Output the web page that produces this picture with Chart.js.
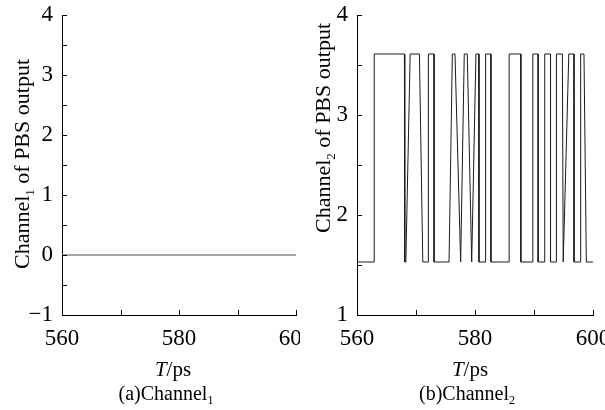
<!DOCTYPE html>
<html>
<head>
<meta charset="utf-8">
<script src="https://cdn.jsdelivr.net/npm/chart.js@4/dist/chart.umd.min.js"></script>
<style>
  html, body { margin: 0; padding: 0; background: #fff; }
  #wrap { position: relative; width: 605px; height: 410px; overflow: hidden; }
  #c1 { position: absolute; left: 0; top: 0; }
  #c2 { position: absolute; left: 300px; top: 0; }
</style>
</head>
<body>
<div id="wrap">
  <canvas id="c1" width="300" height="410"></canvas>
  <canvas id="c2" width="305" height="410"></canvas>
</div>
<script>
// ---- data ----
const xRange = [560, 600];
const xTickLabels = [560, 580, 600];
const ch1YRange = [-1, 4];
const ch2YRange = [1, 4];

// Channel 1: flat at zero
const ch1Times  = [560, 600];
const ch1Levels = [0, 0];

// Channel 2: pulse train (T in ps, level)
const ch2Times = [
  560, 562.92, 562.92, 568.04, 568.10, 568.28, 569.01, 570.58, 571.15, 572.10,
  572.10, 573.06, 573.06, 575.60, 576.16, 576.61, 577.57, 578.18, 578.69, 579.44,
  580.16, 580.67, 580.67, 581.80, 581.80, 582.70, 582.70, 585.79, 585.79, 587.77,
  587.77, 589.80, 589.80, 590.70, 590.70, 591.82, 591.82, 592.80, 592.80, 593.80,
  593.80, 594.81, 594.95, 595.00, 595.90, 596.78, 596.78, 597.91, 597.91, 598.47,
  598.87, 600
];
const ch2Levels = [
  1.53, 1.53, 3.61, 3.61, 1.53, 1.53, 3.61, 3.61, 1.53, 1.53,
  3.61, 3.61, 1.53, 1.53, 3.61, 3.61, 1.53, 3.61, 3.61, 1.53,
  3.61, 3.61, 1.53, 1.53, 3.61, 3.61, 1.53, 1.53, 3.61, 3.61,
  1.53, 1.53, 3.61, 3.61, 1.53, 1.53, 3.61, 3.61, 1.53, 1.53,
  3.61, 3.61, 1.53, 1.53, 3.61, 3.61, 1.53, 1.53, 3.61, 3.61,
  1.53, 1.53
];

const SERIF = "'Liberation Serif', 'Times New Roman', serif";

function pts(xs, ys) { return xs.map((x, i) => ({ x: x, y: ys[i] })); }

// inward tick marks drawn through the library's scales
const inwardTicks = {
  id: 'inwardTicks',
  afterDraw(chart) {
    const ctx = chart.ctx, a = chart.chartArea;
    ctx.save();
    ctx.strokeStyle = '#000';
    ctx.lineWidth = 1;
    const xs = chart.scales.x, ys = chart.scales.y;
    xs.ticks.forEach(t => {
      const p = Math.round(xs.getPixelForValue(t.value)) + 0.5;
      ctx.beginPath(); ctx.moveTo(p, a.bottom); ctx.lineTo(p, a.bottom - 5); ctx.stroke();
    });
    ys.ticks.forEach(t => {
      const p = Math.round(ys.getPixelForValue(t.value)) + 0.5;
      ctx.beginPath(); ctx.moveTo(a.left, p); ctx.lineTo(a.left + 5, p); ctx.stroke();
    });
    ctx.restore();
  }
};

// rich text: segments {t, size, italic, dy}
function drawRich(ctx, segs, cx, cy, rot) {
  ctx.save();
  ctx.translate(cx, cy);
  if (rot) ctx.rotate(rot);
  ctx.fillStyle = '#000';
  ctx.textBaseline = 'alphabetic';
  ctx.textAlign = 'left';
  let w = 0;
  segs.forEach(s => {
    ctx.font = (s.italic ? 'italic ' : '') + s.size + 'px ' + SERIF;
    s.w = ctx.measureText(s.t).width; w += s.w;
  });
  let x = -w / 2;
  segs.forEach(s => {
    ctx.font = (s.italic ? 'italic ' : '') + s.size + 'px ' + SERIF;
    ctx.fillText(s.t, x, (s.dy || 0));
    x += s.w;
  });
  ctx.restore();
}

function textPlugin(cfg) {
  return {
    id: 'texts',
    afterDraw(chart) {
      const ctx = chart.ctx;
      drawRich(ctx, [
        { t: 'Channel', size: 22 }, { t: cfg.sub, size: 13, dy: 5 }, { t: ' of PBS output', size: 22 }
      ], cfg.yt[0], cfg.yt[1], -Math.PI / 2);
      drawRich(ctx, [{ t: 'T', size: 21, italic: true }, { t: '/ps', size: 21 }], cfg.xt[0], cfg.xt[1]);
      drawRich(ctx, [{ t: cfg.cap, size: 20 }, { t: cfg.sub, size: 12, dy: 4 }], cfg.cp[0], cfg.cp[1]);
    }
  };
}

function makeChart(id, data, color, width, yRange, pad, yWidth, cfg) {
  return new Chart(document.getElementById(id), {
    type: 'line',
    data: { datasets: [{ data: data, borderColor: color, borderWidth: width, pointRadius: 0, tension: 0, fill: false }] },
    options: {
      responsive: false, animation: false, devicePixelRatio: 1,
      layout: { autoPadding: false, padding: pad },
      plugins: { legend: { display: false }, tooltip: { enabled: false }, title: { display: false } },
      scales: {
        x: {
          type: 'linear', min: xRange[0], max: xRange[1],
          grid: { display: false, drawTicks: false },
          border: { display: true, color: '#000', width: 1 },
          ticks: {
            stepSize: 10, autoSkip: false, maxRotation: 0, padding: 10, color: '#000',
            font: { family: SERIF, size: 23 },
            callback: v => xTickLabels.includes(v) ? String(v) : ''
          },
          afterFit: s => { s.height = 95; s.paddingLeft = 0; s.paddingRight = 0; }
        },
        y: {
          min: yRange[0], max: yRange[1],
          grid: { display: false, drawTicks: false },
          border: { display: true, color: '#000', width: 1 },
          ticks: {
            stepSize: 0.5, autoSkip: false, padding: 9, color: '#000',
            font: { family: SERIF, size: 23 },
            callback: v => Number.isInteger(v) ? (v < 0 ? '\u2212' + Math.abs(v) : String(v)) : ''
          },
          afterFit: s => { s.width = yWidth; s.paddingTop = 0; s.paddingBottom = 0; }
        }
      }
    },
    plugins: [inwardTicks, textPlugin(cfg)]
  });
}

makeChart('c1', pts(ch1Times, ch1Levels), '#8a8a8a', 1.5, ch1YRange,
  { left: 0, right: 4, top: 15, bottom: 0 }, 62,
  { sub: '1', cap: '(a)Channel', yt: [29, 164], xt: [173, 376], cp: [166, 400] });

makeChart('c2', pts(ch2Times, ch2Levels), '#1a1a1a', 1, ch2YRange,
  { left: 0, right: 12, top: 15, bottom: 0 }, 57,
  { sub: '2', cap: '(b)Channel', yt: [30, 128], xt: [170, 376], cp: [167, 400] });
</script>
</body>
</html>
